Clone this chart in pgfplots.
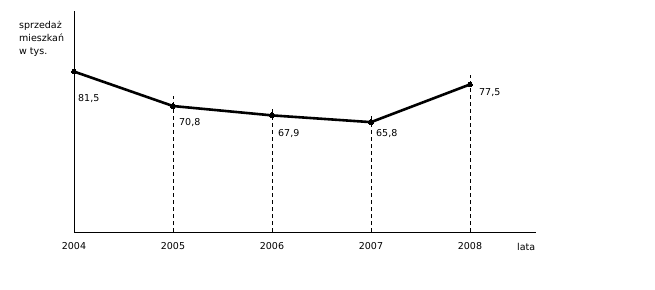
\documentclass[border=0pt]{standalone}
\usepackage{fontspec}
\setmainfont{DejaVu Sans}
\usepackage{pgfplots}
\pgfplotsset{compat=1.18}
\begin{document}
\fontsize{9.5}{13}\selectfont
\begin{tikzpicture}[x=1pt,y=1pt]
\path[use as bounding box] (0,0) rectangle (655,289);
\begin{axis}[
  at={(74pt,57pt)}, anchor=south west,
  scale only axis, width=461.7pt, height=221pt,
  xmin=2004, xmax=2008.664, ymin=31.7, ymax=100.3,
  axis lines=left,
  axis line style={-, line width=1pt, black},
  xtick={2004,2005,2006,2007,2008},
  xticklabels={2004,2005,2006,2007,2008},
  major tick length=0pt,
  ytick=\empty,
  /pgf/number format/assume math mode=true,
  xticklabel style={font=\fontsize{9.5}{11}\selectfont, yshift=-7pt},
  clip=false,
  unbounded coords=jump,
]
\addplot[black, line width=0.8pt, dash pattern=on 4pt off 3pt] coordinates {
  (2005,31.7) (2005,73.9) (2005,nan)
  (2006,31.7) (2006,70.3) (2006,nan)
  (2007,31.7) (2007,67.7) (2007,nan)
  (2008,31.7) (2008,80.5)
};
\addplot[black, line width=2.6pt, mark=*, mark size=2.4pt, mark options={line width=0pt}] coordinates {
  (2004,81.5) (2005,70.8) (2006,67.9) (2007,65.8) (2008,77.5)
};
\node[anchor=west, inner sep=0pt, xshift=4pt, yshift=-27pt] at (axis cs:2004,81.5) {81,5};
\node[anchor=west, inner sep=0pt, xshift=6pt, yshift=-16.5pt] at (axis cs:2005,70.8) {70,8};
\node[anchor=west, inner sep=0pt, xshift=6pt, yshift=-18.5pt] at (axis cs:2006,67.9) {67,9};
\node[anchor=west, inner sep=0pt, xshift=5pt, yshift=-11.5pt] at (axis cs:2007,65.8) {65,8};
\node[anchor=west, inner sep=0pt, xshift=9pt, yshift=-8pt] at (axis cs:2008,77.5) {77,5};
\end{axis}
\node[anchor=west, inner sep=0pt] at (517,42.5) {lata};
\node[anchor=north west, inner sep=0pt, align=left] at (19,268) {sprzedaż\\mieszkań\\w tys.};
\end{tikzpicture}
\end{document}
